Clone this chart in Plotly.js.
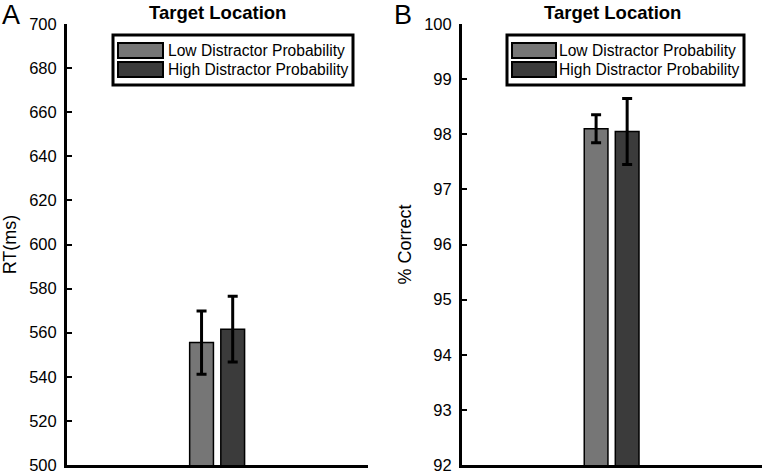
<!DOCTYPE html>
<html>
<head>
<meta charset="utf-8">
<script src="https://cdn.plot.ly/plotly-3.0.1.min.js"></script>
<style>html,body{margin:0;padding:0;background:#fff;}#chart{width:762px;height:473px;}</style>
</head>
<body>
<div id="chart"></div>
<script>
// ---- data ----
const conditions = ["Low Distractor Probability", "High Distractor Probability"];
const groupLabel = ["Target Location"];
const rtMeans = [555.5, 561.6];
const rtErrors = [14.3, 14.9];
const accMeans = [98.1, 98.05];
const accErrors = [0.255, 0.6];
const panelLetters = ["A", "B"];
const yTitles = ["RT(ms)", "% Correct"];
const barColors = ["#767676", "#3b3b3b"];

// ---- helpers (pixel -> paper) ----
const W = 762, H = 473;
const px = x => x / W;
const py = y => 1 - y / H;

const barWidth = 0.158;
const barOffsets = [-0.185, 0.022];

function barTrace(i, xa, ya, means, errs) {
  return {
    type: 'bar',
    name: conditions[i],
    x: [1],
    y: [means[i]],
    width: [barWidth],
    offset: [barOffsets[i]],
    xaxis: xa, yaxis: ya,
    showlegend: false,
    marker: { color: barColors[i], line: { color: '#000', width: 1.5 } },
    error_y: { type: 'data', array: [errs[i]], visible: true, color: '#000', thickness: 3, width: 5 },
    hoverinfo: 'skip'
  };
}

const data = [
  barTrace(0, 'x', 'y', rtMeans, rtErrors),
  barTrace(1, 'x', 'y', rtMeans, rtErrors),
  barTrace(0, 'x2', 'y2', accMeans, accErrors),
  barTrace(1, 'x2', 'y2', accMeans, accErrors)
];

const font = 'Liberation Sans, Arial, sans-serif';
const tickFont = { family: font, size: 16.5, color: '#000' };

function xAxis(domain, anchor) {
  return {
    domain: domain, anchor: anchor, range: [0, 2],
    showline: true, linecolor: '#000', linewidth: 3,
    showticklabels: false, ticks: '', showgrid: false, zeroline: false, fixedrange: true
  };
}
function yAxis(domain, anchor, range, dtick, title, standoff) {
  return {
    domain: domain, anchor: anchor, range: range, dtick: dtick, tick0: range[0],
    showline: true, linecolor: '#000', linewidth: 3,
    ticks: 'inside', ticklen: 5, tickwidth: 2, tickcolor: '#000',
    tickfont: tickFont, ticklabelstandoff: 4, ticklabeloverflow: 'allow',
    showgrid: false, zeroline: false, fixedrange: true,
    title: { text: title, font: { family: font, size: 18, color: '#000' }, standoff: standoff }
  };
}

const yDom = [8 / H, 1 - 24 / H];

// custom legends
const shapes = [];
const annotations = [];
function legend(x0, x1, y0, y1, swX0, swX1, rows, textX) {
  shapes.push({ type: 'rect', xref: 'paper', yref: 'paper', x0: px(x0), x1: px(x1), y0: py(y1), y1: py(y0),
    line: { color: '#000', width: 3 }, fillcolor: '#fff', layer: 'above' });
  rows.forEach((r, i) => {
    shapes.push({ type: 'rect', xref: 'paper', yref: 'paper', x0: px(swX0), x1: px(swX1), y0: py(r[1]), y1: py(r[0]),
      line: { color: '#000', width: 2 }, fillcolor: barColors[i], layer: 'above' });
    annotations.push({ xref: 'paper', yref: 'paper', x: px(textX), y: py((r[0] + r[1]) / 2),
      xanchor: 'left', yanchor: 'middle', showarrow: false, text: conditions[i],
      font: { family: font, size: 15.6, color: '#000' } });
  });
}
legend(113, 353, 35, 85, 118, 163, [[43, 58], [62, 77]], 165.5);
legend(507, 744, 35, 85, 512, 556, [[43, 58], [62, 77]], 557);

// titles and panel letters
annotations.push({ xref: 'paper', yref: 'paper', x: px(217.5), y: py(13), xanchor: 'center', yanchor: 'middle',
  showarrow: false, text: '<b>' + groupLabel[0] + '</b>', font: { family: font, size: 18.5, color: '#000' } });
annotations.push({ xref: 'paper', yref: 'paper', x: px(612), y: py(13), xanchor: 'center', yanchor: 'middle',
  showarrow: false, text: '<b>' + groupLabel[0] + '</b>', font: { family: font, size: 18.5, color: '#000' } });
annotations.push({ xref: 'paper', yref: 'paper', x: px(0), y: py(15), xanchor: 'left', yanchor: 'middle',
  showarrow: false, text: panelLetters[0], font: { family: font, size: 27, color: '#000' } });
annotations.push({ xref: 'paper', yref: 'paper', x: px(392), y: py(15), xanchor: 'left', yanchor: 'middle',
  showarrow: false, text: panelLetters[1], font: { family: font, size: 27, color: '#000' } });

const layout = {
  width: W, height: H,
  margin: { l: 0, r: 0, t: 0, b: 0, pad: 0 },
  paper_bgcolor: '#fff', plot_bgcolor: '#fff',
  showlegend: false,
  xaxis: xAxis([67 / W, 368 / W], 'y'),
  yaxis: yAxis(yDom, 'x', [500, 700], 20, yTitles[0], 12),
  xaxis2: xAxis([462 / W, 1], 'y2'),
  yaxis2: yAxis(yDom, 'x2', [92, 100], 1, yTitles[1], 8),
  shapes: shapes,
  annotations: annotations
};

Plotly.newPlot('chart', data, layout, { displayModeBar: false, staticPlot: true });
</script>
</body>
</html>
